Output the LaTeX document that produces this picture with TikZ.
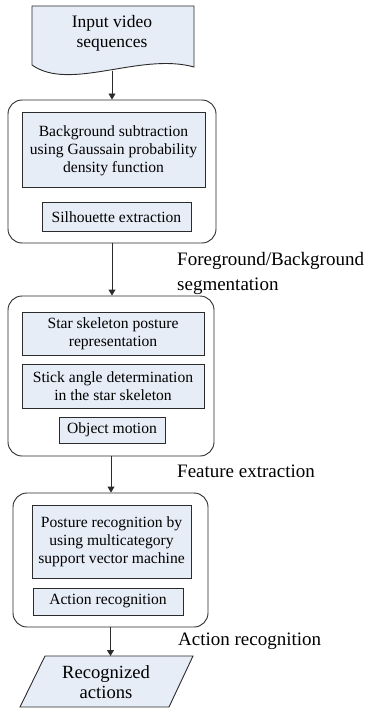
\documentclass[tikz,border=0pt]{standalone}
\usepackage{fontspec}
\setmainfont{Liberation Serif}
\usetikzlibrary{arrows.meta}
\definecolor{boxfill}{HTML}{E7EDF7}
\definecolor{edge}{HTML}{2B2B2B}

\begin{document}
\begin{tikzpicture}[x=1pt, y=-1pt]
        %style
        \tikzset{stage/.style = {shape=rectangle, draw=edge, rounded corners=14pt, line width=0.9pt, inner sep=0pt}}
        \tikzset{task/.style = {shape=rectangle, draw=edge, fill=boxfill, line width=1pt, align=center, inner sep=0pt, font=\fontsize{15.6}{18}\selectfont}}
        \tikzset{caption/.style = {anchor=base west, align=left, inner sep=0pt, font=\fontsize{19}{25}\selectfont}}
        \tikzset{flow/.style = {draw=edge, line width=0.9pt, -{Triangle[length=6pt,width=7pt]}}}
        \useasboundingbox (0,0) rectangle (364,711);
        %input
        \filldraw [draw=edge, fill=boxfill, line width=0.9pt] (32,6) -- (194,6) -- (194,67) .. controls (140,52) and (70,92) .. (32,65) -- cycle;
        \node[align=center, font=\fontsize{17.5}{20}\selectfont] (input) at (112,33) {Input video\\sequences};
        \coordinate (inputbot) at (112,71);
        %stages
        \node[stage, minimum width=208pt, minimum height=143pt] (seg)  at (112,171.5) {};
        \node[stage, minimum width=206pt, minimum height=160pt] (feat) at (111,376)   {};
        \node[stage, minimum width=195pt, minimum height=134pt] (rec)  at (110.5,560) {};
        %tasks
        \node[task, minimum width=183pt, minimum height=75pt] (bgsub)   at (113.5,150.5) {Background subtraction\\using Gaussain probability\\density function};
        \node[task, minimum width=149pt, minimum height=28pt] (silh)    at (116.5,217)   {Silhouette extraction};
        \node[task, minimum width=182pt, minimum height=43pt] (star)    at (113,333.5)   {Star skeleton posture\\representation};
        \node[task, minimum width=182pt, minimum height=44pt] (stick)   at (113,386)     {Stick angle determination\\in the star skeleton};
        \node[task, minimum width=106pt, minimum height=26pt] (motion)  at (112,430)     {Object motion};
        \node[task, minimum width=159pt, minimum height=73pt] (posture) at (111.5,541.5) {Posture recognition by\\using multicategory\\support vector machine};
        \node[task, minimum width=150pt, minimum height=27pt] (actrec)  at (108,601.5)   {Action recognition};
        %output
        \filldraw [draw=edge, fill=boxfill, line width=0.9pt] (45,656) -- (193,656) -- (169,707) -- (20,707) -- cycle;
        \node[align=center, font=\fontsize{18.6}{20}\selectfont] (output) at (106,682) {Recognized\\actions};
        \coordinate (outputtop) at (110.5,656);
        %labels
        \node[caption] (seglbl)  at (177,290) {Foreground/Background\\segmentation};
        \node[caption] (featlbl) at (177,477) {Feature extraction};
        \node[caption] (reclbl)  at (178,645) {Action recognition};
        %arrows
        \draw [flow] (inputbot) -- (seg.north);
        \draw [flow] (seg.south) -- (seg.south |- feat.north);
        \draw [flow] (feat.south) -- (feat.south |- rec.north);
        \draw [flow] (rec.south) -- (outputtop);
\end{tikzpicture}
\end{document}
